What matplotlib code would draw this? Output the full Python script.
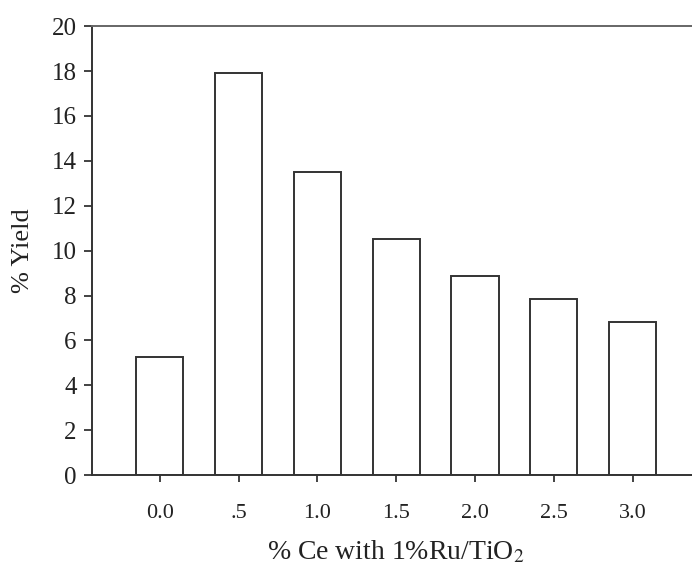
import matplotlib
matplotlib.use("Agg")
import matplotlib.pyplot as plt
import numpy as np

# Ce loading on 1%Ru/TiO2 and the measured yield
ce_labels = ["0.0", ".5", "1.0", "1.5", "2.0", "2.5", "3.0"]
yield_pct = [5.25, 17.93, 13.5, 10.52, 8.85, 7.86, 6.84]
y_ticks = [0, 2, 4, 6, 8, 10, 12, 14, 16, 18, 20]

plt.rcParams['font.family'] = ['Liberation Serif', 'DejaVu Serif']
plt.rcParams['mathtext.fontset'] = 'stix'

fig = plt.figure(figsize=(6.92, 5.69), dpi=100)
ax = fig.add_axes([0.133, 0.165, 0.879, 0.789])

x = np.arange(len(ce_labels))
ax.bar(x, yield_pct, width=0.6, color="white", edgecolor="#333333", linewidth=1.4)

ax.set_xlim(-0.86, 6.86)
ax.set_ylim(0, 20)
ax.set_xticks(x)
ax.set_xticklabels(ce_labels)
ax.set_yticks(y_ticks)

for side in ["left", "bottom", "top"]:
    ax.spines[side].set_color("#333333")
    ax.spines[side].set_linewidth(1.4)
ax.spines["top"].set_color("#666666")
ax.spines["right"].set_visible(False)

ax.tick_params(axis="y", direction="out", length=6, width=1.2, pad=5, labelsize=18, colors="#222222")
ax.tick_params(axis="x", direction="out", length=5, width=1.2, pad=16, labelsize=16, colors="#222222")

ax.set_xlabel("% Ce with 1%Ru/TiO$_2$", fontsize=20, color="#222222")
ax.set_ylabel("% Yield", fontsize=19, color="#222222")
ax.xaxis.set_label_coords(0.5, -0.142)
ax.yaxis.set_label_coords(-0.095, 0.5)

fig.savefig("out.png", dpi=100)
